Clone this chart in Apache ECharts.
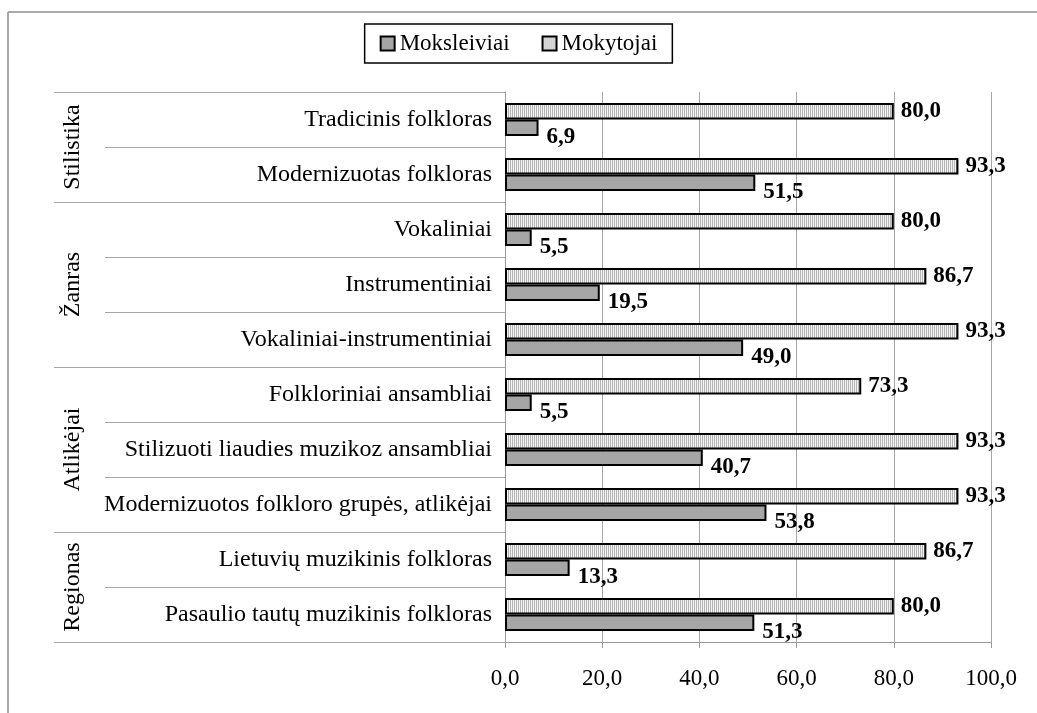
<!DOCTYPE html>
<html><head><meta charset="utf-8">
<script src="https://cdn.jsdelivr.net/npm/echarts@6/dist/echarts.min.js"></script>
<style>html,body{margin:0;padding:0;background:#fff}#c{width:1037px;height:713px}</style>
</head><body><div id="c"></div>
<script>
const categories = [
  'Tradicinis folkloras',
  'Modernizuotas folkloras',
  'Vokaliniai',
  'Instrumentiniai',
  'Vokaliniai-instrumentiniai',
  'Folkloriniai ansambliai',
  'Stilizuoti liaudies muzikoz ansambliai',
  'Modernizuotos folkloro grupės, atlikėjai',
  'Lietuvių muzikinis folkloras',
  'Pasaulio tautų muzikinis folkloras'
];
const moksleiviai = [6.9, 51.5, 5.5, 19.5, 49.0, 5.5, 40.7, 53.8, 13.3, 51.3];
const mokytojai = [80.0, 93.3, 80.0, 86.7, 93.3, 73.3, 93.3, 93.3, 86.7, 80.0];
const groupNames = ['Stilistika', 'Žanras', 'Atlikėjai', 'Regionas'];
const groupSizes = [2, 3, 3, 2];
const seriesNames = ['Moksleiviai', 'Mokytojai'];

const FONT = "'Liberation Serif', 'Times New Roman', serif";
const FS = 23;
const FS_CAT = 24;
const fmt = v => Number(v).toFixed(1).replace('.', ',');

const cv = document.createElement('canvas');
cv.width = 2; cv.height = 4;
const cx = cv.getContext('2d');
cx.fillStyle = '#f4f4f4'; cx.fillRect(0, 0, 2, 4);
cx.fillStyle = '#b4b4b4'; cx.fillRect(0, 0, 1, 4);

const chart = echarts.init(document.getElementById('c'), null, {renderer: 'canvas'});
const option = {
  animation: false,
  backgroundColor: '#fff',
  legend: {
    data: seriesNames,
    top: 24,
    left: 'center',
    borderColor: '#000',
    borderWidth: 1.5,
    padding: [8, 15, 8, 15],
    itemWidth: 14,
    itemHeight: 14,
    itemGap: 32,
    icon: 'rect',
    textStyle: {fontFamily: FONT, fontSize: FS, color: '#000'}
  },
  grid: {left: 505, right: 46, top: 92, bottom: 71, containLabel: false},
  xAxis: {
    type: 'value', min: 0, max: 100, interval: 20,
    axisLine: {show: true, lineStyle: {color: '#9a9a9a', width: 1}},
    axisTick: {show: true, length: 6, lineStyle: {color: '#9a9a9a'}},
    splitLine: {show: true, lineStyle: {color: '#a6a6a6', width: 1}},
    axisLabel: {formatter: fmt, fontFamily: FONT, fontSize: FS, color: '#000', margin: 25}
  },
  yAxis: {
    type: 'category', data: categories, inverse: true,
    axisLine: {show: true, lineStyle: {color: '#9a9a9a', width: 1}},
    axisTick: {show: true, length: 400, lineStyle: {color: '#a6a6a6', width: 1}},
    axisLabel: {fontFamily: FONT, fontSize: FS_CAT, color: '#000', margin: 13}
  },
  series: [
    {
      name: 'Mokytojai', type: 'bar', data: mokytojai,
      barCategoryGap: '40%', barGap: '0%',
      itemStyle: {color: {image: cv, repeat: 'repeat'}, borderColor: '#000', borderWidth: 2},
      label: {show: true, position: 'right', distance: 7, formatter: p => fmt(p.value),
        fontFamily: FONT, fontSize: FS, fontWeight: 'bold', color: '#000'}
    },
    {
      name: 'Moksleiviai', type: 'bar', data: moksleiviai,
      barCategoryGap: '40%', barGap: '0%',
      itemStyle: {color: '#a6a6a6', borderColor: '#000', borderWidth: 2},
      label: {show: true, position: 'right', distance: 8, offset: [0, 9], formatter: p => fmt(p.value),
        fontFamily: FONT, fontSize: FS, fontWeight: 'bold', color: '#000'}
    }
  ]
};
chart.setOption(option);

// decorative group column, positioned from the axis scale
const yOf = i => chart.convertToPixel({yAxisIndex: 0}, categories[i]);
const band = yOf(1) - yOf(0);
const xAxis0 = chart.convertToPixel({xAxisIndex: 0}, 0);
const graphics = [
  {type: 'line', shape: {x1: 8, y1: 12, x2: 1037, y2: 12}, style: {stroke: '#8c8c8c', lineWidth: 1.5}},
  {type: 'line', shape: {x1: 8, y1: 12, x2: 8, y2: 713}, style: {stroke: '#8c8c8c', lineWidth: 1.5}}
];
let start = 0;
const bounds = [0];
groupSizes.forEach((n, gi) => {
  const yTop = yOf(start) - band / 2;
  const yBot = yOf(start + n - 1) + band / 2;
  graphics.push({type: 'text', x: 73, y: (yTop + yBot) / 2, rotation: Math.PI / 2,
    style: {text: groupNames[gi], font: FS_CAT + 'px ' + FONT, fill: '#000', textAlign: 'center', textVerticalAlign: 'middle'}});
  start += n;
  bounds.push(start);
});
bounds.forEach(b => {
  const y = Math.round(b < categories.length ? yOf(b) - band / 2 : yOf(categories.length - 1) + band / 2) + 0.5;
  graphics.push({type: 'line', shape: {x1: 54, y1: y, x2: xAxis0, y2: y}, style: {stroke: '#a6a6a6', lineWidth: 1}});
});
chart.setOption({graphic: graphics});
</script>
</body></html>
